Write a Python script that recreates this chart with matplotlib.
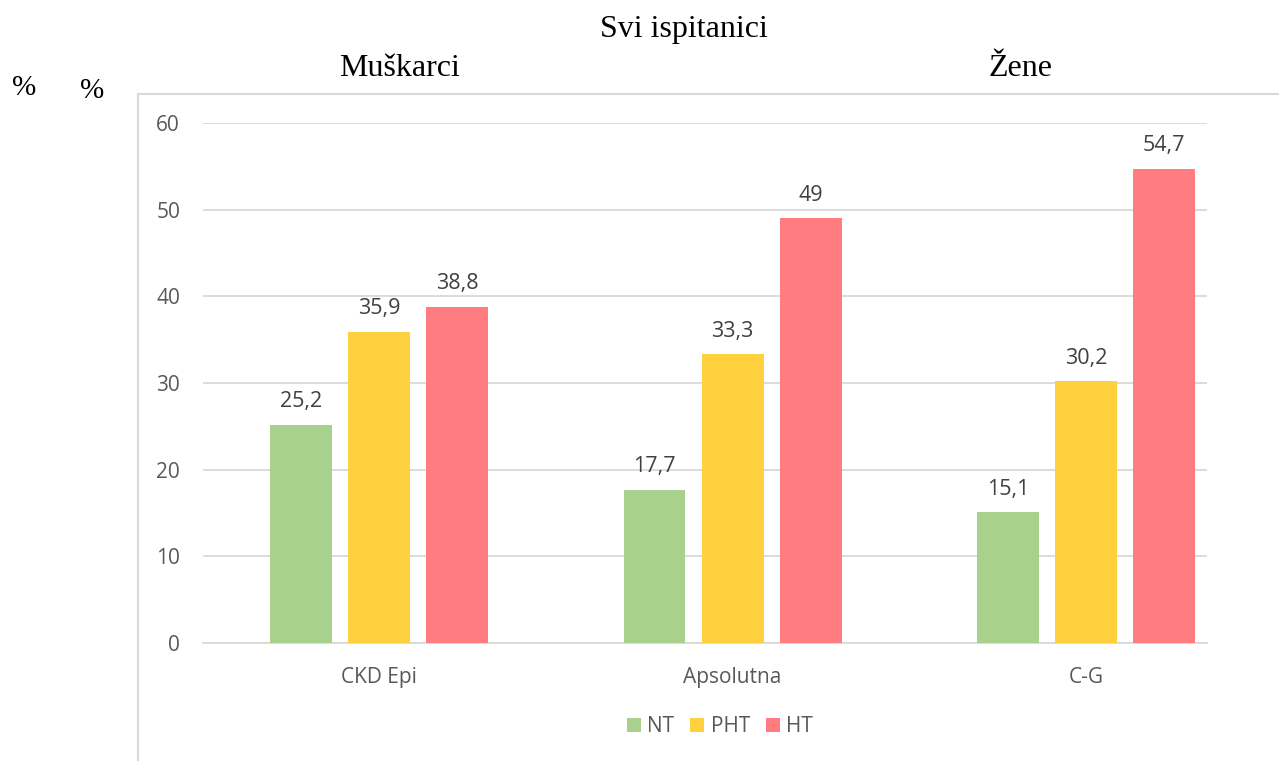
import matplotlib
matplotlib.use("Agg")
import matplotlib.pyplot as plt
from matplotlib.lines import Line2D
from matplotlib.patches import Patch
import numpy as np

categories = ["CKD Epi", "Apsolutna", "C-G"]
series_names = ["NT", "PHT", "HT"]
nt = [25.2, 17.7, 15.1]
pht = [35.9, 33.3, 30.2]
ht = [38.8, 49, 54.7]
colors = ["#A9D18E", "#FFD13F", "#FF7C80"]
yticks = [0, 10, 20, 30, 40, 50, 60]

W, H = 1279, 761
fig = plt.figure(figsize=(W / 100, H / 100), dpi=100)

def fx(px):
    return px / W

def fy(py):
    return 1 - py / H

ax_l, ax_r, ax_t, ax_b = 203, 1207, 123, 643
ax = fig.add_axes([fx(ax_l), fy(ax_b), fx(ax_r - ax_l), (ax_b - ax_t) / H])

x = np.arange(len(categories))
bw = 0.175
off = 0.221
txt = "#595959"
lab_c = "#404040"
sans = "Open Sans"
for i, (vals, c) in enumerate(zip([nt, pht, ht], colors)):
    pos = x + (i - 1) * off
    ax.bar(pos, vals, width=bw, color=c, zorder=3)
    for p, v in zip(pos, vals):
        lab = ("%g" % v).replace(".", ",")
        ax.annotate(lab, (p, v), xytext=(0, 9), textcoords="offset points",
                    ha="center", va="bottom", fontsize=15.5, color=lab_c, family=sans)

ax.set_xlim(-0.498, 2.342)
ax.set_ylim(0, 60)
ax.set_yticks(yticks)
ax.set_xticks(x)
ax.set_xticklabels(categories, fontsize=15, color=txt, family=sans)
ax.set_yticklabels([str(t) for t in yticks], fontsize=15, color=txt, family=sans)
ax.tick_params(axis="both", length=0)
ax.tick_params(axis="y", pad=16.5)
ax.tick_params(axis="x", pad=17)
ax.grid(axis="y", color="#D9D9D9", linewidth=1.3, zorder=0)
for s in ["top", "right", "left"]:
    ax.spines[s].set_visible(False)
ax.spines["bottom"].set_color("#D9D9D9")
ax.spines["bottom"].set_linewidth(1.3)
ax.set_facecolor("none")

# outer frame lines
fig.add_artist(Line2D([fx(138), fx(138)], [fy(94), fy(761)], color="#D9D9D9", lw=1.5))
fig.add_artist(Line2D([fx(138), fx(1279)], [fy(94), fy(94)], color="#D9D9D9", lw=1.5))

# legend
handles = [Patch(facecolor=c, edgecolor="none") for c in colors]
fig.legend(handles, series_names, loc="center", bbox_to_anchor=(fx(720), fy(727)),
           ncol=3, frameon=False, prop={"family": sans, "size": 15},
           labelcolor=txt, handlelength=0.68, handleheight=0.68, handletextpad=0.3,
           columnspacing=0.75)

serif = "Liberation Serif"
fig.text(fx(684), fy(29), "Svi ispitanici", ha="center", va="center", fontsize=23, family=serif)
fig.text(fx(400), fy(68), "Muškarci", ha="center", va="center", fontsize=23, family=serif)
fig.text(fx(1020), fy(68), "Žene", ha="center", va="center", fontsize=23, family=serif)
fig.text(fx(24), fy(88), "%", ha="center", va="center", fontsize=21, family=serif)
fig.text(fx(92), fy(91), "%", ha="center", va="center", fontsize=21, family=serif)

fig.savefig("out.png", dpi=100)
